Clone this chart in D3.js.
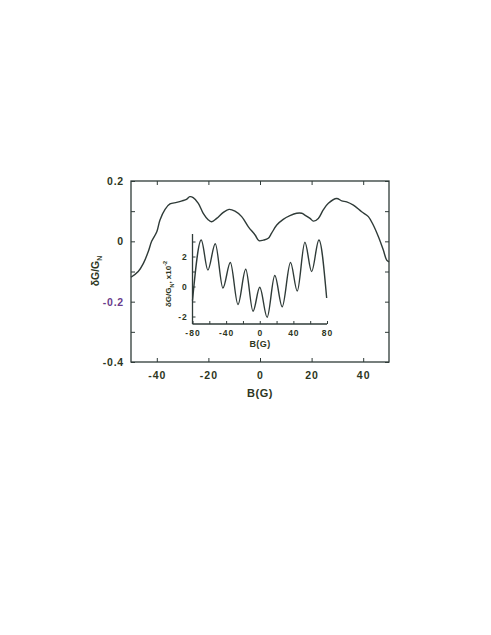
<!DOCTYPE html>
<html><head><meta charset="utf-8">
<script src="https://cdn.jsdelivr.net/npm/d3@7"></script>
<style>
body{margin:0;background:#fff;}
text{font-family:"Liberation Sans",Arial,sans-serif;font-weight:bold;}
</style></head>
<body>
<svg id="c" width="491" height="635"></svg>
<script>
// ---- main curve data: B (G) vs dG/GN ----
const mainB = [-50,-47.2,-45.2,-43.3,-42,-40,-38.8,-36.8,-34.9,-32.3,-30.3,-28.5,-27.2,-25.9,-23.9,-22,-20,-18.7,-16.8,-14.2,-12,-9.7,-7.1,-4.5,-1.9,-0.4,1.3,3.2,4.5,6.5,9,11.6,14.2,16.2,17.4,19.4,20.7,22.6,24.5,26.5,29.7,31.7,33.6,36.2,39.4,42,43.9,45.9,47.8,49.1,50];
const mainG = [-0.119,-0.10,-0.073,-0.034,0,0.032,0.07,0.106,0.124,0.129,0.134,0.139,0.148,0.145,0.126,0.093,0.071,0.065,0.076,0.096,0.106,0.1,0.082,0.048,0.021,0.002,0.004,0.01,0.027,0.054,0.073,0.085,0.093,0.093,0.087,0.076,0.067,0.076,0.104,0.126,0.142,0.134,0.131,0.12,0.098,0.082,0.054,0.015,-0.029,-0.062,-0.068];
// ---- inset curve data: B (G) vs dG/GN x10^-2 ----
const insetB = [-80,-69.6,-61.7,-52.9,-43.8,-35,-25.9,-16.7,-8,0,8.8,17.9,26.7,36.6,44.6,53.7,61.7,70.4,79.6];
const insetG = [-0.93,3.1,1.1,2.85,-0.1,1.6,-1.2,1.15,-1.65,-0.05,-2.05,0.73,-1.35,1.6,-0.3,2.95,1.0,3.1,-0.77];
// ---- ticks ----
const mainXTicks = [-40,-20,0,20,40];
const mainYTicks = [-0.4,-0.3,-0.2,-0.1,0,0.1,0.2];
const mainYLabels = {"-0.4":"-0.4","-0.2":"-0.2","0":"0","0.2":"0.2"};
const insetXTicks = [-80,-60,-40,-20,0,20,40,60,80];
const insetXLabels = {"-80":"-80","-40":"-40","0":"0","40":"40","80":"80"};
const insetYTicks = [-2,-1,0,1,2,3];
const insetYLabels = {"-2":"-2","0":"0","2":"2"};

const LINE = "#2f3b38", TXT = "#2d3622", PURPLE = "#6a3c8c";
const svg = d3.select("#c");

// main scales
const x = d3.scaleLinear().domain([-50,50]).range([131,389]);
const y = d3.scaleLinear().domain([-0.4,0.2]).range([362,181]);
const key = v => String(Math.round(v*10)/10);

function style(g, fs, ls){
  g.select(".domain").remove();
  g.selectAll(".tick line").attr("stroke",LINE).attr("stroke-width",1);
  g.selectAll(".tick text").attr("fill",TXT).style("font-size",fs+"px").style("letter-spacing",ls+"px")
   .style("font-family","'Liberation Sans',Arial,sans-serif").style("font-weight","bold");
}
// frame
svg.append("rect").attr("x",131).attr("y",181).attr("width",258).attr("height",181)
  .attr("fill","none").attr("stroke",LINE).attr("stroke-width",1.3);

const gb = svg.append("g").attr("transform","translate(0,362)")
  .call(d3.axisBottom(x).tickValues(mainXTicks).tickSizeInner(-4).tickSizeOuter(0).tickPadding(10).tickFormat(d => String(d)));
style(gb,10.5,1);
const gt = svg.append("g").attr("transform","translate(0,181)")
  .call(d3.axisTop(x).tickValues(mainXTicks).tickSizeInner(-4).tickSizeOuter(0).tickFormat(""));
style(gt,10,0);
const gl = svg.append("g").attr("transform","translate(131,0)")
  .call(d3.axisLeft(y).tickValues(mainYTicks).tickSizeInner(-4).tickSizeOuter(0).tickPadding(7)
  .tickFormat(d => mainYLabels[key(d)] || ""));
style(gl,10.5,0.8);
gl.selectAll(".tick text").filter(d => key(d)==="-0.2").attr("fill",PURPLE);
const gr = svg.append("g").attr("transform","translate(389,0)")
  .call(d3.axisRight(y).tickValues(mainYTicks).tickSizeInner(-4).tickSizeOuter(0).tickFormat(""));
style(gr,10,0);

// main curve
const mainData = mainB.map((b,i)=>[b,mainG[i]]);
svg.append("path").datum(mainData)
  .attr("d", d3.line().x(d=>x(d[0])).y(d=>y(d[1])).curve(d3.curveCatmullRom.alpha(0.5)))
  .attr("fill","none").attr("stroke",LINE).attr("stroke-width",1.4);

// main labels
svg.append("text").attr("x",260).attr("y",397).attr("text-anchor","middle")
  .attr("fill",TXT).style("font-size","11px").style("letter-spacing","0.5px").text("B(G)");
const yl = svg.append("text").attr("transform","translate(99,271) rotate(-90)").attr("text-anchor","middle")
  .attr("fill",TXT).style("font-size","10.5px");
yl.append("tspan").text("δG/G");
yl.append("tspan").attr("dy",3).style("font-size","7px").text("N");

// ---- inset ----
const ix = d3.scaleLinear().domain([-80,80]).range([192.5,327]);
const iy = d3.scaleLinear().domain([-2.5,3.5]).range([324,234]);
const ik = v => String(Math.round(v));
svg.append("line").attr("x1",192.5).attr("x2",192.5).attr("y1",iy(3.5)).attr("y2",324)
  .attr("stroke",LINE).attr("stroke-width",1.3);
svg.append("line").attr("x1",192.5).attr("x2",327).attr("y1",324).attr("y2",324)
  .attr("stroke",LINE).attr("stroke-width",1.3);
const ib = svg.append("g").attr("transform","translate(0,324)")
  .call(d3.axisBottom(ix).tickValues(insetXTicks).tickSizeInner(-3).tickSizeOuter(0).tickPadding(6)
  .tickFormat(d => insetXLabels[ik(d)] || ""));
style(ib,8.5,1);
const il = svg.append("g").attr("transform","translate(192.5,0)")
  .call(d3.axisLeft(iy).tickValues(insetYTicks).tickSizeInner(-3).tickSizeOuter(0).tickPadding(5)
  .tickFormat(d => insetYLabels[ik(d)] || ""));
style(il,8.5,0.8);

const insetData = insetB.map((b,i)=>[b,insetG[i]]);
svg.append("path").datum(insetData)
  .attr("d", d3.line().x(d=>ix(d[0])).y(d=>iy(d[1])).curve(d3.curveMonotoneX))
  .attr("fill","none").attr("stroke",LINE).attr("stroke-width",1.4);

svg.append("text").attr("x",260).attr("y",346.5).attr("text-anchor","middle")
  .attr("fill",TXT).style("font-size","9px").style("letter-spacing","0.4px").text("B(G)");
const iyl = svg.append("text").attr("transform","translate(171,284) rotate(-90)").attr("text-anchor","middle")
  .attr("fill",TXT).style("font-size","8px");
iyl.append("tspan").text("δG/G");
iyl.append("tspan").attr("dy",2.5).style("font-size","5.5px").text("N");
iyl.append("tspan").attr("dy",-2.5).text(", x10");
iyl.append("tspan").attr("dy",-4).style("font-size","5.5px").text("-2");
</script>
</body></html>
